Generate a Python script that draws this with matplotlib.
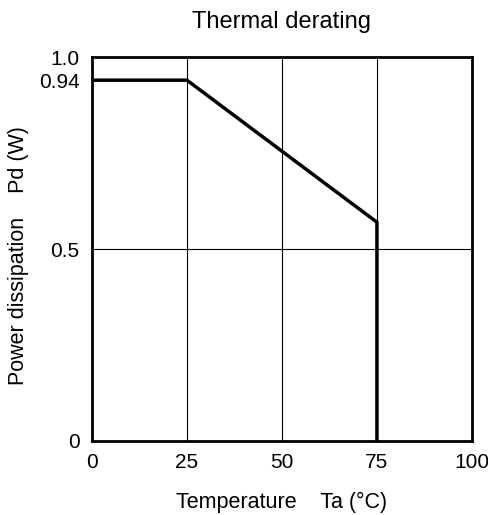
import matplotlib.pyplot as plt

plt.rcParams['font.family'] = ['Liberation Sans', 'DejaVu Sans']

# derating curve
temp = [0, 25, 75, 75]
power = [0.94, 0.94, 0.57, 0.0]

x_ticks = [0, 25, 50, 75, 100]
y_ticks = [0, 0.5, 0.94, 1.0]
y_tick_labels = ["0", "0.5", "0.94", "1.0"]

fig = plt.figure(figsize=(4.88, 5.15), dpi=100)
ax = fig.add_axes([0.1885, 0.1437, 0.7785, 0.7453])

# thin grid lines
for x in [25, 50, 75]:
    ax.axvline(x, color='black', lw=0.8)
ax.axhline(0.5, color='black', lw=0.8)

ax.plot(temp, power, color='black', lw=2.5, solid_joinstyle='miter')

ax.set_xlim(0, 100)
ax.set_ylim(0, 1.0)
ax.set_xticks(x_ticks)
ax.set_yticks(y_ticks)
ax.set_yticklabels(y_tick_labels)
ax.tick_params(length=0, labelsize=15, pad=9)

for s in ax.spines.values():
    s.set_linewidth(2)

ax.set_xlabel("Temperature    Ta (°C)", fontsize=15.5, labelpad=14)
ax.set_ylabel("Power dissipation    Pd (W)", fontsize=15.5)
ax.yaxis.set_label_coords(-0.166, 0.482)
ax.set_title("Thermal derating", fontsize=17, pad=21)

fig.savefig("out.png", dpi=100)
